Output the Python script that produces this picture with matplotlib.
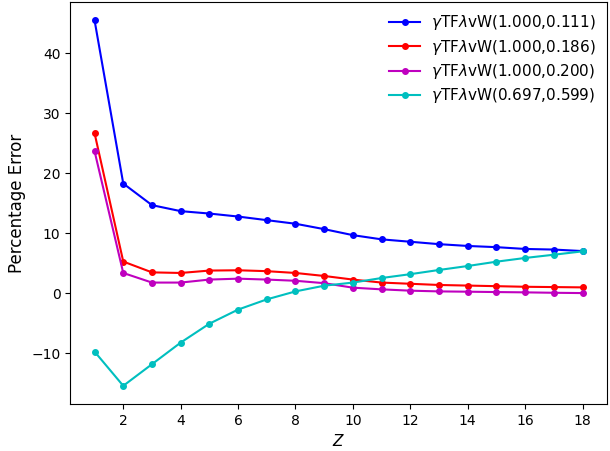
import matplotlib
matplotlib.use("Agg")
import matplotlib.pyplot as plt

Z = list(range(1, 19))

# percentage errors
err_111 = [45.5, 18.3, 14.7, 13.7, 13.3, 12.8, 12.2, 11.6, 10.7, 9.7, 9.0, 8.6, 8.2, 7.9, 7.7, 7.4, 7.3, 7.05]
err_186 = [26.7, 5.3, 3.5, 3.4, 3.8, 3.85, 3.7, 3.4, 2.9, 2.3, 1.8, 1.6, 1.4, 1.3, 1.2, 1.1, 1.05, 1.0]
err_200 = [23.7, 3.4, 1.8, 1.8, 2.3, 2.45, 2.3, 2.1, 1.7, 0.95, 0.67, 0.45, 0.33, 0.28, 0.22, 0.17, 0.1, 0.05]
err_599 = [-9.7, -15.4, -11.8, -8.2, -5.05, -2.7, -1.0, 0.33, 1.28, 1.8, 2.56, 3.2, 3.9, 4.56, 5.28, 5.9, 6.44, 7.0]

labels = [r"$\gamma$TF$\lambda$vW(1.000,0.111)",
          r"$\gamma$TF$\lambda$vW(1.000,0.186)",
          r"$\gamma$TF$\lambda$vW(1.000,0.200)",
          r"$\gamma$TF$\lambda$vW(0.697,0.599)"]
colors = ['b', 'r', 'm', 'c']

fig = plt.figure(figsize=(6.1, 4.51), dpi=100)
ax = fig.add_axes([0.115, 0.104, 0.88, 0.8916])

for errs, lab, col in zip([err_111, err_186, err_200, err_599], labels, colors):
    ax.plot(Z, errs, 'o-', color=col, ms=4, label=lab)

ax.set_xticks([2, 4, 6, 8, 10, 12, 14, 16, 18])
ax.set_xlabel("$Z$", fontsize=11)
ax.set_ylabel("Percentage Error", fontsize=12)
ax.legend(loc='upper right', frameon=False, fontsize=11, labelspacing=0.35,
          borderaxespad=0.35, handletextpad=0.7)

fig.savefig("out.png", dpi=100)
